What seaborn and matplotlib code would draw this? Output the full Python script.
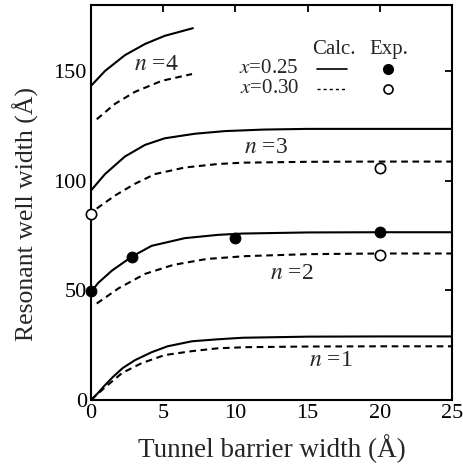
import matplotlib
matplotlib.use("Agg")
import matplotlib.pyplot as plt
import seaborn as sns
import pandas as pd

# calculated curves (Calc.), x = 0.25 solid, x = 0.30 dashed
n1_sol_x = [0, 0.5, 0.97, 1.5, 2.2, 3.05, 4.2, 5.3, 7, 8.8, 10.5, 15, 20, 25]
n1_sol_y = [0, 3.3, 6.8, 10.4, 14.6, 18.2, 21.8, 24.5, 26.8, 27.7, 28.4, 28.9, 29, 29]
n1_das_x = [0, 0.97, 2.15, 3.5, 5.1, 7, 8.8, 10.7, 15, 20, 25]
n1_das_y = [0, 5.8, 12.3, 16.8, 20.5, 22.3, 23.6, 24.1, 24.4, 24.5, 24.5]

n2_sol_x = [0, 0.5, 1.45, 2.84, 4.2, 6.5, 8.8, 10.5, 15, 20, 25]
n2_sol_y = [49.2, 53.4, 59, 65.4, 70.3, 73.8, 75.3, 75.9, 76.4, 76.5, 76.5]
n2_das_x = [0.4, 1.9, 3.74, 5.7, 8, 10.7, 15, 20, 25]
n2_das_y = [44, 50.9, 57.5, 61.6, 64.3, 65.6, 66.5, 66.8, 66.8]

n3_sol_x = [0, 0.97, 2.35, 3.74, 5.1, 7.2, 9.3, 12, 15, 20, 25]
n3_sol_y = [95.5, 103, 111, 116.3, 119.3, 121.4, 122.6, 123.3, 123.6, 123.6, 123.6]
n3_das_x = [0.4, 1.66, 3.05, 4.43, 6.5, 8.8, 10.5, 15, 20, 25]
n3_das_y = [87.3, 93.2, 98.6, 103, 106, 107.6, 108.2, 108.6, 108.7, 108.7]

n4_sol_x = [0, 0.97, 2.35, 3.74, 5.1, 7.06]
n4_sol_y = [143.2, 150, 157.2, 162.3, 166, 169.5]
n4_das_x = [0.4, 1.66, 3.05, 4.9, 7.0]
n4_das_y = [128, 135, 140.5, 145.5, 148.6]

# experimental points (Exp.)
exp25_x = [0, 2.84, 10, 20]
exp25_y = [49.5, 65.4, 73.8, 76.8]
exp30_x = [0, 20, 20]
exp30_y = [85, 106, 66]

curves = [
    (n1_sol_x, n1_sol_y, "-"), (n1_das_x, n1_das_y, "--"),
    (n2_sol_x, n2_sol_y, "-"), (n2_das_x, n2_das_y, "--"),
    (n3_sol_x, n3_sol_y, "-"), (n3_das_x, n3_das_y, "--"),
    (n4_sol_x, n4_sol_y, "-"), (n4_das_x, n4_das_y, "--"),
]

sns.set_style("white")
plt.rcParams["font.family"] = ["Liberation Serif", "DejaVu Serif"]
plt.rcParams["mathtext.fontset"] = "stix"

fig = plt.figure(figsize=(4.63, 4.69), dpi=100)
ax = fig.add_axes([0.1965, 0.147, 0.7795, 0.842])

for cx, cy, ls in curves:
    df = pd.DataFrame({"x": cx, "y": cy})
    sns.lineplot(data=df, x="x", y="y", ax=ax, color="black", lw=1.5,
                 estimator=None, sort=False)
    l = ax.lines[-1]
    l.set_solid_joinstyle("round")
    if ls == "--":
        l.set_dashes((3.2, 2.2))

sns.scatterplot(x=exp25_x, y=exp25_y, ax=ax, color="black", s=62,
                edgecolor="black", zorder=5, clip_on=False)
sns.scatterplot(x=exp30_x, y=exp30_y, ax=ax, facecolor="white", s=55,
                edgecolor="black", linewidth=1.2, zorder=5, clip_on=False)

ax.text(3.0, 153, "$n$ =4", fontsize=17, va="center")
ax.text(10.6, 115, "$n$ =3", fontsize=17, va="center")
ax.text(12.4, 57.7, "$n$ =2", fontsize=17, va="center")
ax.text(15.1, 18, "$n$ =1", fontsize=17, va="center")

# legend block
ax.text(16.8, 160, "Calc.", fontsize=15, ha="center", va="center")
ax.text(20.6, 160, "Exp.", fontsize=15, ha="center", va="center")
ax.text(14.4, 151, "$x$=0.25", fontsize=15, ha="right", va="center")
ax.text(14.4, 142, "$x$=0.30", fontsize=15, ha="right", va="center")
ax.plot([15.65, 17.7], [151, 151], color="black", lw=1.2)
kd, = ax.plot([15.65, 17.7], [142, 142], color="black", lw=1.0)
kd.set_dashes((2.2, 2.2))
ax.plot([20.6], [151], "o", color="black", ms=7)
ax.plot([20.6], [142], "o", mfc="white", mec="black", mew=1.2, ms=6.5)

ax.set_xlim(0, 25)
ax.set_ylim(0, 180)
ax.set_xticks([0, 5, 10, 15, 20, 25])
ax.set_yticks([0, 50, 100, 150])
ax.tick_params(direction="in", length=5, width=1.3, top=True, right=True,
               labelsize=16, pad=3, colors="black")
for s in ax.spines.values():
    s.set_linewidth(1.5)
    s.set_color("black")

ax.set_xlabel("Tunnel barrier width (Å)", fontsize=19.5, labelpad=8)
ax.set_ylabel("Resonant well width (Å)", fontsize=18.5)
ax.yaxis.set_label_coords(-0.145, 0.47)

fig.savefig("out.png", dpi=100)
